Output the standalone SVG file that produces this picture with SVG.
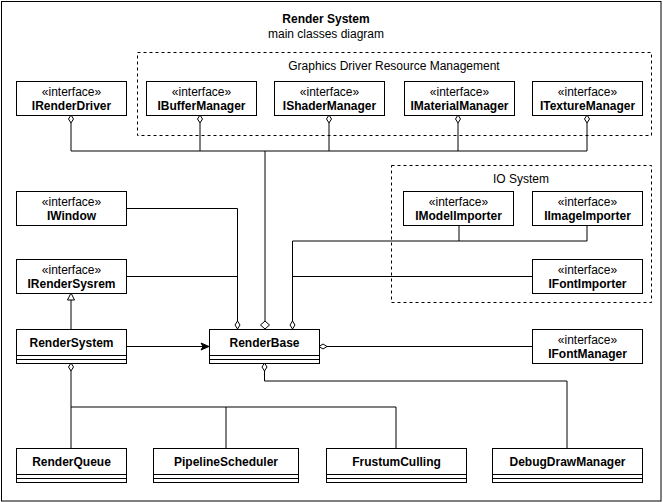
<svg xmlns="http://www.w3.org/2000/svg" width="663" height="502" viewBox="0 0 663 502">
<style>
text{font-family:"Liberation Sans",Arial,Helvetica,sans-serif;font-size:12px;fill:#000;text-anchor:middle}
.b{font-weight:bold}
.box{fill:#fff;stroke:#000;stroke-width:1}
.pkg{fill:none;stroke:#000;stroke-width:1;stroke-dasharray:3,3}
.ln{fill:none;stroke:#000;stroke-width:1}
.dm{fill:#fff;stroke:#000;stroke-width:1}
</style>
<rect x="0" y="0" width="663" height="502" fill="#fff"/>
<rect x="1.5" y="1.5" width="659.5" height="499.5" fill="none" stroke="#000"/>
<g id="title">
<text x="326" y="23" class="b">Render System</text>
<text x="326" y="38">main classes diagram</text>
</g>
<g id="pkg-graphics">
<rect class="pkg" x="137.5" y="52.5" width="514" height="83"/>
<text x="394" y="70">Graphics Driver Resource Management</text>
</g>
<g id="pkg-io">
<rect class="pkg" x="391.5" y="165.5" width="260" height="137"/>
<text x="521" y="183">IO System</text>
</g>
<g id="connectors">
<polyline class="ln" points="71,123 71,151 587,151 587,123"/>
<line class="ln" x1="200" y1="123" x2="200" y2="151"/>
<line class="ln" x1="329" y1="123" x2="329" y2="151"/>
<line class="ln" x1="458" y1="123" x2="458" y2="151"/>
<line class="ln" x1="265" y1="151" x2="265" y2="321"/>
<polyline class="ln" points="126,208.5 237.5,208.5 237.5,321"/>
<line class="ln" x1="126" y1="276.5" x2="237.5" y2="276.5"/>
<polyline class="ln" points="459,225 459,241 292.5,241 292.5,321"/>
<polyline class="ln" points="587,225 587,241 459,241"/>
<line class="ln" x1="532" y1="276.5" x2="292.5" y2="276.5"/>
<line class="ln" x1="327" y1="346.5" x2="532" y2="346.5"/>
<line class="ln" x1="126" y1="346.5" x2="203" y2="346.5"/>
<path d="M209,346.5 L201,343 L203,346.5 L201,350 Z" fill="#000" stroke="#000"/>
<line class="ln" x1="71" y1="300" x2="71" y2="329"/>
<path d="M71,293 L74.5,300 L67.5,300 Z" class="dm"/>
<polyline class="ln" points="71,371 71,448"/>
<polyline class="ln" points="71,407 396,407 396,448"/>
<line class="ln" x1="226" y1="407" x2="226" y2="448"/>
<polyline class="ln" points="264.5,371 264.5,381 567,381 567,448"/>
<path class="dm" d="M71,115 L73.5,119 L71,123 L68.5,119 Z"/>
<path class="dm" d="M200,115 L202.5,119 L200,123 L197.5,119 Z"/>
<path class="dm" d="M329,115 L331.5,119 L329,123 L326.5,119 Z"/>
<path class="dm" d="M458,115 L460.5,119 L458,123 L455.5,119 Z"/>
<path class="dm" d="M587,115 L589.5,119 L587,123 L584.5,119 Z"/>
<path class="dm" d="M237.5,321 L240,325 L237.5,329 L235,325 Z"/>
<path class="dm" d="M265,321 L269.5,325 L265,329 L260.5,325 Z"/>
<path class="dm" d="M292.5,321 L295,325 L292.5,329 L290,325 Z"/>
<path class="dm" d="M319,346.5 L323,344 L327,346.5 L323,349 Z"/>
<path class="dm" d="M71,363 L73.5,367 L71,371 L68.5,367 Z"/>
<path class="dm" d="M264.5,363 L267,367 L264.5,371 L262,367 Z"/>
</g>
<g id="IRenderDriver"><rect class="box" x="16.5" y="81.5" width="110" height="34"/><text x="71.5" y="96">«interface»</text><text x="71.5" y="110" class="b">IRenderDriver</text></g>
<g id="IBufferManager"><rect class="box" x="146.5" y="81.5" width="110" height="34"/><text x="201.5" y="96">«interface»</text><text x="201.5" y="110" class="b">IBufferManager</text></g>
<g id="IShaderManager"><rect class="box" x="274.5" y="81.5" width="110" height="34"/><text x="329.5" y="96">«interface»</text><text x="329.5" y="110" class="b">IShaderManager</text></g>
<g id="IMaterialManager"><rect class="box" x="404.5" y="81.5" width="110" height="34"/><text x="459.5" y="96">«interface»</text><text x="459.5" y="110" class="b">IMaterialManager</text></g>
<g id="ITextureManager"><rect class="box" x="532.5" y="81.5" width="110" height="34"/><text x="587.5" y="96">«interface»</text><text x="587.5" y="110" class="b">ITextureManager</text></g>
<g id="IWindow"><rect class="box" x="16.5" y="191.5" width="110" height="34"/><text x="71.5" y="206">«interface»</text><text x="71.5" y="220" class="b">IWindow</text></g>
<g id="IRenderSysrem"><rect class="box" x="16.5" y="259.5" width="110" height="34"/><text x="71.5" y="274">«interface»</text><text x="71.5" y="288" class="b">IRenderSysrem</text></g>
<g id="IModelImporter"><rect class="box" x="403.5" y="191.5" width="110" height="34"/><text x="458.5" y="206">«interface»</text><text x="458.5" y="220" class="b">IModelImporter</text></g>
<g id="IImageImporter"><rect class="box" x="532.5" y="191.5" width="110" height="34"/><text x="587.5" y="206">«interface»</text><text x="587.5" y="220" class="b">IImageImporter</text></g>
<g id="IFontImporter"><rect class="box" x="532.5" y="259.5" width="110" height="34"/><text x="587.5" y="274">«interface»</text><text x="587.5" y="288" class="b">IFontImporter</text></g>
<g id="IFontManager"><rect class="box" x="532.5" y="329.5" width="110" height="34"/><text x="587.5" y="344">«interface»</text><text x="587.5" y="358" class="b">IFontManager</text></g>
<g id="RenderSystem"><rect class="box" x="16.5" y="329.5" width="110" height="34"/><line class="ln" x1="16.5" y1="355.5" x2="126.5" y2="355.5"/><line class="ln" x1="16.5" y1="359.5" x2="126.5" y2="359.5"/><text x="71.5" y="347" class="b">RenderSystem</text></g>
<g id="RenderBase"><rect class="box" x="209.5" y="329.5" width="110" height="34"/><line class="ln" x1="209.5" y1="355.5" x2="319.5" y2="355.5"/><line class="ln" x1="209.5" y1="359.5" x2="319.5" y2="359.5"/><text x="264.5" y="347" class="b">RenderBase</text></g>
<g id="RenderQueue"><rect class="box" x="16.5" y="448.5" width="110" height="34"/><line class="ln" x1="16.5" y1="474.5" x2="126.5" y2="474.5"/><line class="ln" x1="16.5" y1="478.5" x2="126.5" y2="478.5"/><text x="71.5" y="466" class="b">RenderQueue</text></g>
<g id="PipelineScheduler"><rect class="box" x="153.5" y="448.5" width="145" height="34"/><line class="ln" x1="153.5" y1="474.5" x2="298.5" y2="474.5"/><line class="ln" x1="153.5" y1="478.5" x2="298.5" y2="478.5"/><text x="226" y="466" class="b">PipelineScheduler</text></g>
<g id="FrustumCulling"><rect class="box" x="326.5" y="448.5" width="140" height="34"/><line class="ln" x1="326.5" y1="474.5" x2="466.5" y2="474.5"/><line class="ln" x1="326.5" y1="478.5" x2="466.5" y2="478.5"/><text x="396.5" y="466" class="b">FrustumCulling</text></g>
<g id="DebugDrawManager"><rect class="box" x="492.5" y="448.5" width="150" height="34"/><line class="ln" x1="492.5" y1="474.5" x2="642.5" y2="474.5"/><line class="ln" x1="492.5" y1="478.5" x2="642.5" y2="478.5"/><text x="567.5" y="466" class="b">DebugDrawManager</text></g>
</svg>
